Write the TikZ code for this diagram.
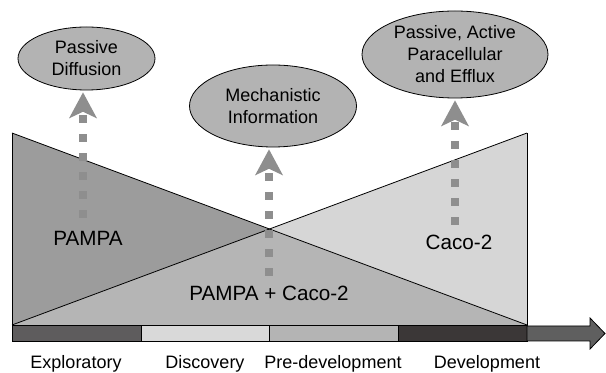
\documentclass[tikz,border=0pt]{standalone}
\usepackage{fontspec}
\setmainfont{Liberation Sans}
\usetikzlibrary{arrows.meta,shapes.geometric}
\definecolor{pampagray}{HTML}{9C9C9C}
\definecolor{bothgray}{HTML}{B5B5B5}
\definecolor{cacogray}{HTML}{D6D6D6}
\definecolor{ovalgray}{HTML}{B3B3B3}
\definecolor{flowgray}{HTML}{8E8E8E}
\definecolor{stageA}{HTML}{5E5C5D}
\definecolor{stageB}{HTML}{D9D9D9}
\definecolor{stageC}{HTML}{B4B4B4}
\definecolor{stageD}{HTML}{3B3737}
\definecolor{timegray}{HTML}{5F5F5F}

\begin{document}
\begin{tikzpicture}[x=0.75pt, y=-0.75pt, line width=0.6pt,
    every node/.style={font=\fontsize{13.5}{16.5}\selectfont, align=center, inner sep=0pt},
    oval/.style={ellipse, draw, fill=ovalgray},
    biglabel/.style={font=\fontsize{15.5}{18}\selectfont},
    upflow/.style={draw=flowgray, line width=6pt, dash pattern=on 6pt off 8.25pt, shorten >=1.5pt,
        -{Stealth[length=19.5pt, width=21pt, inset=5pt, line width=0pt, fill=flowgray]}}]
\useasboundingbox (0,0) rectangle (606,373);

% the two triangles
\coordinate (tl) at (12,133);
\coordinate (bl) at (12,325);
\coordinate (br) at (527,325);
\coordinate (tr) at (527,133);
\coordinate (mid) at (intersection of tl--br and bl--tr);
\fill[pampagray] (tl) -- (bl) -- (mid) -- cycle;
\fill[bothgray] (bl) -- (br) -- (mid) -- cycle;
\fill[cacogray] (tr) -- (br) -- (mid) -- cycle;
\draw (tl) -- (bl) -- (br) -- (tr);
\draw (tl) -- (br);
\draw (bl) -- (tr);

\node[biglabel] (pampa) at (88,238) {PAMPA};
\node[biglabel] (both) at (269,293) {PAMPA + Caco-2};
\node[biglabel] (caco) at (459,242) {Caco-2};

% stage bar and time arrow
\foreach \xa/\xb/\c in {12/141/stageA, 141/269/stageB, 269/398/stageC, 398/527/stageD}
    \draw[fill=\c] (\xa,325) rectangle (\xb,341);
\draw[fill=timegray] (527,326) -- (590,326) -- (590,318) -- (605,333.5) -- (590,349) -- (590,341) -- (527,341) -- cycle;

\foreach \k/\x/\t in {0/76/Exploratory, 1/205/Discovery, 2/333/Pre-development, 3/487/Development}
    \node (stage\k) at (\x,364) {\t};

% outcomes
\node[oval, minimum width=102.75pt, minimum height=47.25pt] (diff) at (86.5,58.5) {Passive\\Diffusion};
\node[oval, minimum width=125.25pt, minimum height=61.5pt] (mech) at (273,106) {Mechanistic\\Information};
\node[oval, minimum width=139.5pt, minimum height=65.25pt] (efflux) at (455,54.5) {Passive, Active\\Paracellular\\and Efflux};

\coordinate (fromP) at (83,218);
\coordinate (fromB) at (269,276);
\coordinate (fromC) at (455,225);
\draw[upflow] (fromP) -- (fromP |- diff.south);
\draw[upflow] (fromB) -- (fromB |- mech.south);
\draw[upflow] (fromC) -- (fromC |- efflux.south);
\end{tikzpicture}
\end{document}
